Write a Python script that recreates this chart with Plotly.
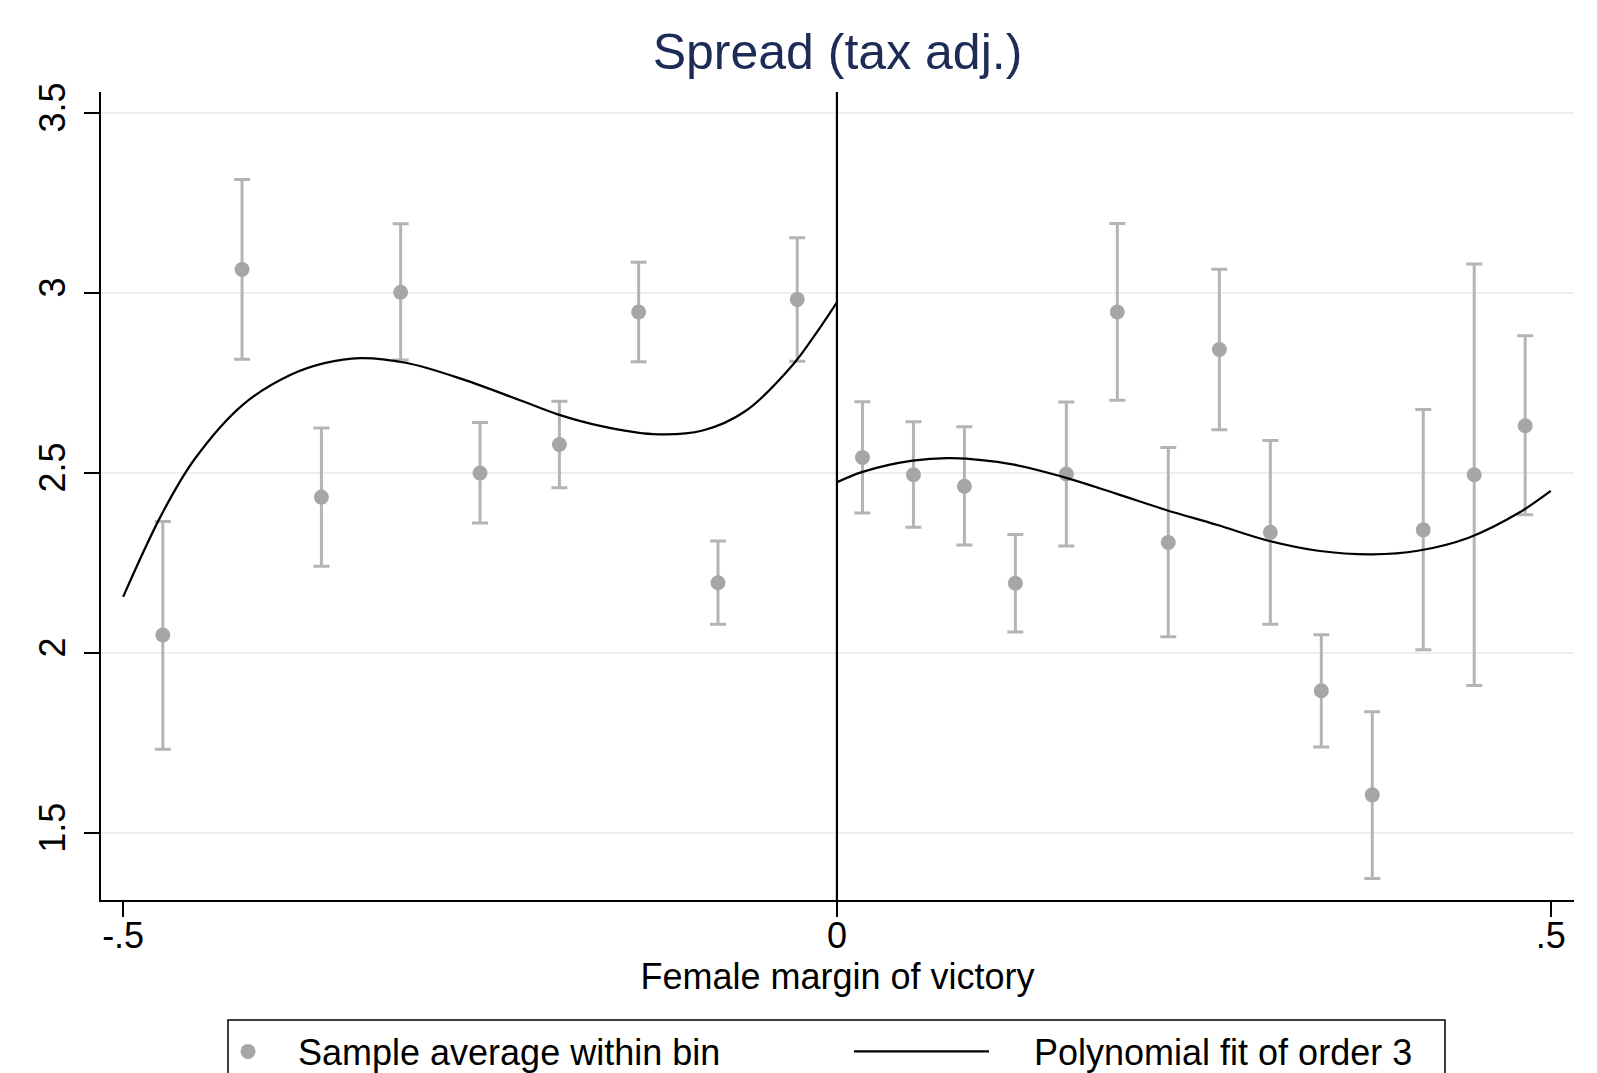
import plotly.graph_objects as go

# ---- data ----
bin_x = [-0.4722, -0.4167, -0.3611, -0.3056, -0.25, -0.1944, -0.1389, -0.0833, -0.0278,
         0.0179, 0.0536, 0.0893, 0.125, 0.1607, 0.1964, 0.2321, 0.2679, 0.3036,
         0.3393, 0.375, 0.4107, 0.4464, 0.4821]
bin_mean = [2.050, 3.065, 2.433, 3.002, 2.500, 2.579, 2.947, 2.195, 2.982,
            2.543, 2.495, 2.463, 2.194, 2.497, 2.947, 2.307, 2.843, 2.335,
            1.895, 1.606, 2.342, 2.495, 2.631]
ci_upper = [2.365, 3.315, 2.625, 3.192, 2.640, 2.699, 3.085, 2.311, 3.153,
            2.698, 2.642, 2.628, 2.329, 2.697, 3.193, 2.571, 3.066, 2.590,
            2.051, 1.837, 2.676, 3.080, 2.881]
ci_lower = [1.733, 2.816, 2.241, 2.814, 2.361, 2.459, 2.809, 2.080, 2.810,
            2.389, 2.349, 2.300, 2.058, 2.297, 2.702, 2.045, 2.620, 2.080,
            1.739, 1.374, 2.009, 1.910, 2.384]

fit_left_x = [-0.500, -0.473, -0.450, -0.416, -0.383, -0.359, -0.334, -0.302, -0.262,
              -0.222, -0.195, -0.165, -0.129, -0.094, -0.064, -0.031, -0.016, 0.0]
fit_left_y = [2.156, 2.385, 2.538, 2.690, 2.772, 2.805, 2.819, 2.806, 2.760,
              2.702, 2.662, 2.630, 2.608, 2.618, 2.672, 2.800, 2.880, 2.974]
fit_right_x = [0.0, 0.018, 0.053, 0.080, 0.124, 0.160, 0.196, 0.230, 0.266,
               0.301, 0.337, 0.375, 0.407, 0.443, 0.478, 0.500]
fit_right_y = [2.474, 2.503, 2.534, 2.541, 2.523, 2.487, 2.442, 2.398, 2.356,
               2.313, 2.284, 2.274, 2.284, 2.321, 2.390, 2.450]

x_ticks = [-0.5, 0, 0.5]
x_tick_labels = ["-.5", "0", ".5"]
y_ticks = [1.5, 2, 2.5, 3, 3.5]
y_tick_labels = ["1.5", "2", "2.5", "3", "3.5"]

FONT = "Liberation Sans, Arial, Helvetica, sans-serif"
NB = "\u00a0"

err_plus = [u - m for u, m in zip(ci_upper, bin_mean)]
err_minus = [m - l for m, l in zip(bin_mean, ci_lower)]

fig = go.Figure()
fig.add_trace(go.Scatter(
    x=bin_x, y=bin_mean, mode="markers", name=NB * 3 + "Sample average within bin",
    marker=dict(color="#a6a6a6", size=15),
    error_y=dict(type="data", symmetric=False, array=err_plus, arrayminus=err_minus,
                 color="#b4b4b4", thickness=3, width=8),
    showlegend=True, legend="legend",
))
fig.add_trace(go.Scatter(
    x=fit_left_x, y=fit_left_y, mode="lines", name=NB * 4 + "Polynomial fit of order 3",
    line=dict(color="black", width=2.2, shape="spline", smoothing=1.0),
    legendgroup="fit", showlegend=True, legend="legend2",
))
fig.add_trace(go.Scatter(
    x=fit_right_x, y=fit_right_y, mode="lines", name="Polynomial fit of order 3",
    line=dict(color="black", width=2.2, shape="spline", smoothing=1.0),
    legendgroup="fit", showlegend=False, legend="legend2",
))

fig.add_vline(x=0, line=dict(color="black", width=2.2))

PLOT_L, PLOT_W, PLOT_B, PLOT_H = 101, 1473, 900, 808

def px_x(p):
    return (p - PLOT_L) / PLOT_W

def px_y(p):
    return (PLOT_B - p) / PLOT_H

# legend frame (encloses both legend groups)
fig.add_shape(type="rect", xref="paper", yref="paper",
              x0=px_x(228), x1=px_x(1445), y0=px_y(1020), y1=px_y(1110),
              line=dict(color="black", width=1.5), fillcolor="rgba(0,0,0,0)")

fig.update_layout(
    width=1597, height=1073,
    showlegend=True,
    margin=dict(l=101, r=23, t=92, b=173, autoexpand=False),
    paper_bgcolor="white", plot_bgcolor="white",
    font=dict(family=FONT, size=36, color="black"),
    title=dict(text="Spread (tax adj.)", x=0.5, xanchor="center", xref="paper",
               y=1 - 51 / 1073, yanchor="middle",
               font=dict(family=FONT, size=50, color="#1d2c56")),
    xaxis=dict(range=[-0.5155, 0.5163], tickvals=x_ticks, ticktext=x_tick_labels,
               showgrid=False, zeroline=False, showline=True, linecolor="black",
               linewidth=2, ticks="outside", ticklen=15, tickwidth=2, tickcolor="black",
               tickfont=dict(size=36), ticklabelstandoff=-12,
               title=dict(text="Female margin of victory", font=dict(size=36), standoff=8)),
    yaxis=dict(range=[1.314, 3.558], tickvals=y_ticks, ticktext=y_tick_labels,
               showgrid=True, gridcolor="#e8f0f1", gridwidth=2, zeroline=False,
               showline=True, linecolor="black", linewidth=2,
               ticks="outside", ticklen=15, tickwidth=2, tickcolor="black",
               tickangle=-90, tickfont=dict(size=36), ticklabelstandoff=5),
    legend=dict(orientation="h", x=px_x(228), xanchor="left",
                y=px_y(1021.5), yanchor="top",
                borderwidth=0, bgcolor="rgba(0,0,0,0)",
                font=dict(size=36), itemwidth=30),
    legend2=dict(orientation="h", x=px_x(849), xanchor="left",
                 y=px_y(1021.5), yanchor="top",
                 borderwidth=0, bgcolor="rgba(0,0,0,0)",
                 font=dict(size=36), itemwidth=135),
)

fig.write_html("out.html", config={"displayModeBar": False},
               post_script="document.body.style.margin='0';")
